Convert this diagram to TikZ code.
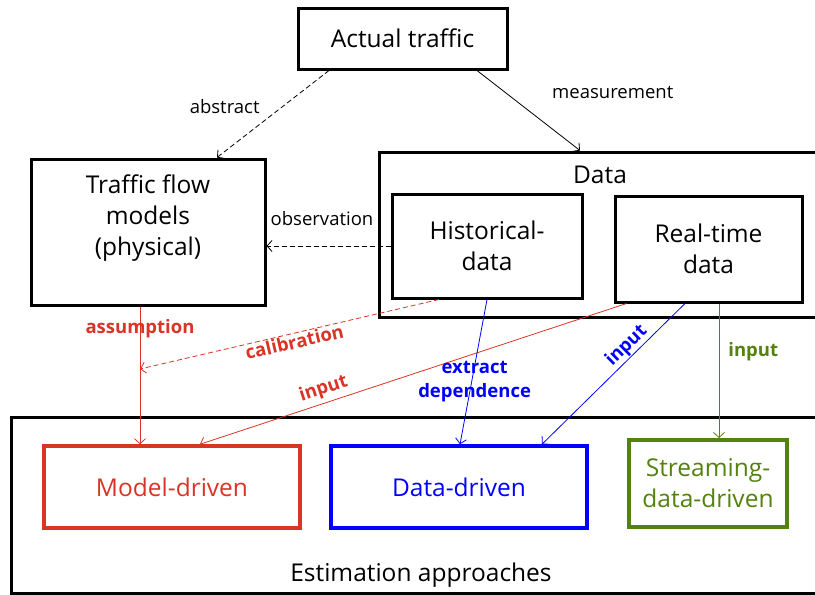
\documentclass[tikz,border=0pt]{standalone}
\usepackage{fontspec}
\setmainfont{Open Sans}
\usetikzlibrary{arrows.meta}
\definecolor{modelred}{RGB}{218,52,38}
\definecolor{datablue}{RGB}{0,0,255}
\definecolor{streamgreen}{RGB}{84,130,14}

\begin{document}
\begin{tikzpicture}[x=1pt,y=-1pt,
    box/.style={draw,line width=3pt,inner sep=0pt,align=center},
    big/.style={font=\fontsize{24.5}{31}\selectfont,align=center},
    small/.style={font=\fontsize{18.5}{22}\selectfont,inner sep=1pt},
    tag/.style={font=\fontsize{18.5}{24}\selectfont\bfseries,inner sep=1pt,align=center},
    arr/.style={-{Straight Barb[length=5pt,width=11pt]},line width=0.8pt},
    dashedarr/.style={arr,dash pattern=on 5pt off 3pt}]
    \clip (0,0) rectangle (815,595);
    \fill[white] (0,0) rectangle (815,595);

    \node[box,big,minimum width=209,minimum height=61] (traffic) at (402.5,38.5) {Actual traffic};
    \node[box,minimum width=234,minimum height=146] (tfm) at (148,232) {};
    \node[big] (tfmtext) at (148,218) {Traffic flow\\models\\(physical)};

    \node[box,minimum width=460,minimum height=165] (data) at (609,234.5) {};
    \node[big] (datatext) at (600,175) {Data};
    \node[box,big,minimum width=190,minimum height=104] (hist) at (487,246) {Historical-\\data};
    \node[box,big,minimum width=187,minimum height=106] (real) at (708.5,249) {Real-time\\data};

    \node[box,minimum width=830,minimum height=176] (est) at (426,505) {};
    \node[big] (esttext) at (421,575) {Estimation approaches};
    \node[box,big,line width=3.5pt,draw=modelred,text=modelred,minimum width=256,minimum height=82] (model) at (172,487) {Model-driven};
    \node[box,big,line width=3.5pt,draw=datablue,text=datablue,minimum width=256,minimum height=82] (datad) at (459,487) {Data-driven};
    \node[box,big,line width=4pt,draw=streamgreen,text=streamgreen,minimum width=158,minimum height=87] (stream) at (708,483.5) {Streaming-\\data-driven};

    \coordinate (calib) at (140,369);

    \draw[dashedarr] ([xshift=-73.5]traffic.south) -- node[small,pos=.42,left=21pt] {abstract} ([xshift=69]tfm.north);
    \draw[arr] ([xshift=74.5]traffic.south) -- node[small,pos=.28,right=45pt] {measurement} ([xshift=-29]data.north);
    \draw[dashedarr] (hist.west) -- node[small,above=19pt,xshift=-6.5] {observation} (tfm.east |- hist.west);

    \draw[arr,modelred] ([xshift=-8]tfm.south) -- node[tag,text=modelred,pos=.16] {assumption} ([xshift=-32]model.north);
    \draw[dashedarr,modelred] ([xshift=-48]hist.south) -- node[tag,text=modelred,sloped,below=0pt,pos=.49] {calibration} (calib);
    \draw[arr,modelred] ([xshift=-82]real.south) -- node[tag,text=modelred,sloped,above=3pt,pos=.70] {input} ([xshift=28]model.north);

    \draw[arr,datablue] (hist.south) -- node[tag,text=datablue,pos=.57,xshift=3] {extract\\dependence} ([xshift=1]datad.north);
    \draw[arr,datablue] ([xshift=-23.5]real.south) -- node[tag,text=datablue,sloped,above=0pt,pos=.355] {input} ([xshift=83]datad.north);

    \draw[arr,streamgreen] ([xshift=10.5]real.south) -- node[tag,text=streamgreen,pos=.36,right=8pt] {input} ([xshift=11]stream.north);
\end{tikzpicture}
\end{document}
